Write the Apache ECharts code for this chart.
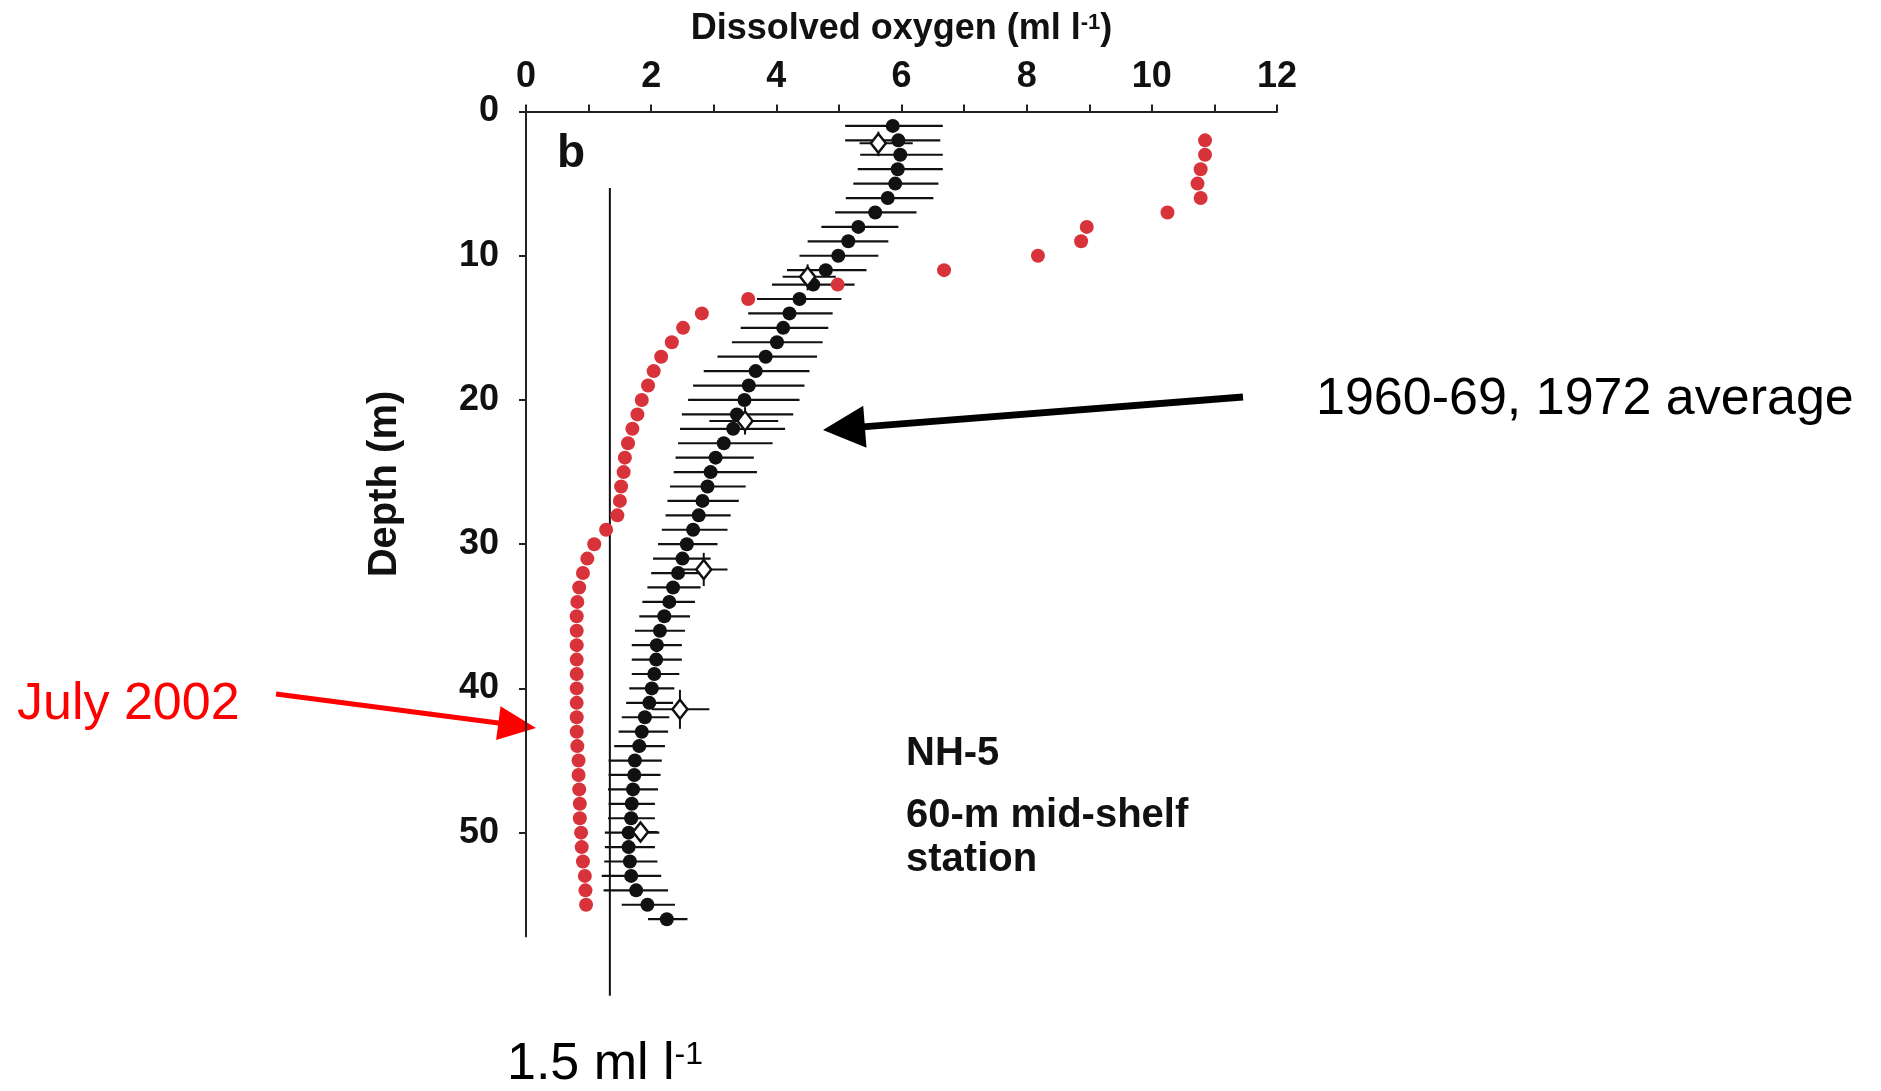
<!DOCTYPE html>
<html>
<head>
<meta charset="utf-8">
<script src="https://cdn.jsdelivr.net/npm/echarts@6/dist/echarts.min.js"></script>
<style>
  html, body { margin: 0; padding: 0; background: #fff; }
  #chart { width: 1881px; height: 1091px; }
</style>
</head>
<body>
<div id="chart"></div>
<script>
  // 1960-69, 1972 average profile (depth in m, oxygen in ml/l)
  const avgDepth = [1, 2, 3, 4, 5, 6, 7, 8, 9, 10, 11, 12, 13, 14, 15, 16, 17, 18, 19, 20,
    21, 22, 23, 24, 25, 26, 27, 28, 29, 30, 31, 32, 33, 34, 35, 36, 37, 38, 39, 40,
    41, 42, 43, 44, 45, 46, 47, 48, 49, 50, 51, 52, 53, 54, 55, 56]
  const avgO2 = [5.86, 5.95, 5.98, 5.94, 5.90, 5.78, 5.58, 5.31, 5.15, 4.99,
    4.79, 4.59, 4.37, 4.21, 4.11, 4.01, 3.83, 3.67, 3.56, 3.49,
    3.37, 3.31, 3.16, 3.03, 2.95, 2.90, 2.82, 2.76, 2.67, 2.57,
    2.50, 2.43, 2.35, 2.29, 2.21, 2.14, 2.09, 2.08, 2.05, 2.01,
    1.97, 1.90, 1.85, 1.81, 1.74, 1.73, 1.71, 1.69, 1.68, 1.64,
    1.64, 1.66, 1.68, 1.76, 1.94, 2.25]
  const avgLow = [5.10, 5.10, 5.34, 5.30, 5.23, 5.11, 4.94, 4.72, 4.50, 4.37,
    4.17, 3.93, 3.69, 3.55, 3.43, 3.29, 3.06, 2.84, 2.67, 2.59,
    2.49, 2.46, 2.43, 2.39, 2.36, 2.30, 2.26, 2.23, 2.17, 2.11,
    2.03, 2.00, 1.94, 1.86, 1.81, 1.74, 1.69, 1.69, 1.69, 1.65,
    1.60, 1.53, 1.48, 1.41, 1.32, 1.32, 1.31, 1.32, 1.31, 1.26,
    1.26, 1.25, 1.21, 1.24, 1.53, 1.95]
  const avgHigh = [6.66, 6.62, 6.66, 6.66, 6.59, 6.51, 6.24, 5.95, 5.79, 5.63,
    5.44, 5.25, 5.04, 4.90, 4.83, 4.74, 4.65, 4.53, 4.45, 4.37,
    4.27, 4.14, 3.94, 3.64, 3.69, 3.51, 3.40, 3.27, 3.22, 3.06,
    2.95, 2.85, 2.79, 2.70, 2.62, 2.54, 2.49, 2.49, 2.45, 2.37,
    2.35, 2.29, 2.27, 2.22, 2.17, 2.15, 2.11, 2.06, 2.06, 2.13,
    2.06, 2.10, 2.16, 2.27, 2.38, 2.58]

  // open diamonds with their own error bars
  const dmO2 = [5.63, 4.50, 3.50, 2.84, 2.46, 1.83]
  const dmDepth = [2.2, 11.45, 21.45, 31.75, 41.45, 49.95]
  const dmO2Low = [5.33, 4.10, 2.93, 2.42, 2.01, 1.55]
  const dmO2High = [6.18, 4.95, 4.03, 3.22, 2.93, 2.10]
  const dmDepthLow = [1.4, 10.6, 20.5, 30.6, 40.1, 49.95]
  const dmDepthHigh = [3.1, 12.4, 22.4, 32.9, 42.8, 49.95]

  // July 2002
  const julDepth = [2, 3, 4, 5, 6, 7, 8, 9, 10, 11, 12, 13, 14, 15, 16, 17, 18, 19, 20,
    21, 22, 23, 24, 25, 26, 27, 28, 29, 30, 31, 32, 33, 34, 35, 36, 37, 38, 39, 40,
    41, 42, 43, 44, 45, 46, 47, 48, 49, 50, 51, 52, 53, 54, 55]
  const julO2 = [10.85, 10.85, 10.78, 10.73, 10.78, 10.25, 8.96, 8.87, 8.18,
    6.68, 4.98, 3.55, 2.81, 2.51, 2.33, 2.16, 2.04, 1.95, 1.85,
    1.78, 1.70, 1.63, 1.58, 1.56, 1.52, 1.50, 1.46, 1.28, 1.09,
    0.98, 0.91, 0.85, 0.82, 0.81, 0.81, 0.81, 0.81, 0.81, 0.81,
    0.81, 0.81, 0.81, 0.82, 0.84, 0.84, 0.85, 0.86, 0.86, 0.88,
    0.89, 0.91, 0.94, 0.95, 0.96]

  // hypoxia threshold line
  const thresholdO2 = 1.34
  const thresholdDepth = [5.3, 61.3]

  const xTicks = [0, 2, 4, 6, 8, 10, 12]
  const yTicks = [0, 10, 20, 30, 40, 50]

  const FONT = "'Liberation Sans', Arial, sans-serif"

  const myChart = echarts.init(document.getElementById('chart'))

  // arrow = shaft + triangular head
  function arrow(x1, y1, x2, y2, lw, hl, hw, color) {
    const dx = x2 - x1
    const dy = y2 - y1
    const len = Math.hypot(dx, dy)
    const ux = dx / len
    const uy = dy / len
    const bx = x2 - ux * hl
    const by = y2 - uy * hl
    return [
      { type: 'line', shape: { x1: x1, y1: y1, x2: bx + ux * 2, y2: by + uy * 2 }, style: { stroke: color, lineWidth: lw } },
      {
        type: 'polygon',
        shape: { points: [[x2, y2], [bx - uy * hw, by + ux * hw], [bx + uy * hw, by - ux * hw]] },
        style: { fill: color },
      },
    ]
  }

  const option = {
    animation: false,
    backgroundColor: '#fff',
    grid: { left: 526, top: 111.5, right: 604, bottom: 154.5 },
    xAxis: {
      type: 'value',
      position: 'top',
      min: 0,
      max: 12,
      interval: 1,
      name: 'Dissolved oxygen (ml l{sup|-1})',
      nameLocation: 'middle',
      nameGap: 64,
      nameTextStyle: {
        fontFamily: FONT,
        fontSize: 36,
        fontWeight: 'bold',
        color: '#111',
        rich: {
          sup: { fontFamily: FONT, fontSize: 22, fontWeight: 'bold', color: '#111', verticalAlign: 'top' },
        },
      },
      axisLine: { lineStyle: { color: '#222', width: 2 } },
      axisTick: { length: 7, lineStyle: { color: '#222', width: 2 } },
      axisLabel: {
        customValues: xTicks,
        margin: 16,
        fontFamily: FONT,
        fontSize: 36,
        fontWeight: 'bold',
        color: '#111',
      },
      splitLine: { show: false },
    },
    yAxis: {
      type: 'value',
      inverse: true,
      min: 0,
      max: 57.2,
      axisLine: { show: true, lineStyle: { color: '#222', width: 2 } },
      axisTick: { show: true, customValues: yTicks, length: 7, lineStyle: { color: '#222', width: 2 } },
      axisLabel: {
        customValues: yTicks,
        margin: 27,
        fontFamily: FONT,
        fontSize: 36,
        fontWeight: 'bold',
        color: '#111',
      },
      splitLine: { show: false },
    },
    series: [
      {
        name: 'threshold',
        type: 'line',
        clip: false,
        symbol: 'none',
        silent: true,
        lineStyle: { color: '#111', width: 2 },
        data: thresholdDepth.map(d => [thresholdO2, d]),
        z: 1,
      },
      {
        name: 'avg error',
        type: 'custom',
        z: 2,
        renderItem: function (params, api) {
          const a = api.coord([api.value(0), api.value(2)])
          const b = api.coord([api.value(1), api.value(2)])
          return {
            type: 'line',
            shape: { x1: a[0], y1: a[1], x2: b[0], y2: b[1] },
            style: { stroke: '#111', lineWidth: 2.2 },
          }
        },
        data: avgDepth.map((d, i) => [avgLow[i], avgHigh[i], d]),
      },
      {
        name: 'July 2002',
        type: 'scatter',
        symbolSize: 14,
        itemStyle: { color: '#d8333a', opacity: 1 },
        data: julDepth.map((d, i) => [julO2[i], d]),
        z: 3,
      },
      {
        name: '1960-69, 1972 average',
        type: 'scatter',
        symbolSize: 14,
        itemStyle: { color: '#111', opacity: 1 },
        data: avgDepth.map((d, i) => [avgO2[i], d]),
        z: 4,
      },
      {
        name: 'diamond error',
        type: 'custom',
        z: 5,
        renderItem: function (params, api) {
          const d = api.value(1)
          const x = api.value(0)
          const h1 = api.coord([api.value(2), d])
          const h2 = api.coord([api.value(3), d])
          const v1 = api.coord([x, api.value(4)])
          const v2 = api.coord([x, api.value(5)])
          return {
            type: 'group',
            children: [
              { type: 'line', shape: { x1: h1[0], y1: h1[1], x2: h2[0], y2: h2[1] }, style: { stroke: '#111', lineWidth: 2 } },
              { type: 'line', shape: { x1: v1[0], y1: v1[1], x2: v2[0], y2: v2[1] }, style: { stroke: '#111', lineWidth: 2 } },
            ],
          }
        },
        data: dmO2.map((v, i) => [v, dmDepth[i], dmO2Low[i], dmO2High[i], dmDepthLow[i], dmDepthHigh[i]]),
      },
      {
        name: 'diamonds',
        type: 'scatter',
        symbol: 'diamond',
        symbolSize: [15, 19],
        itemStyle: { color: '#fff', borderColor: '#111', borderWidth: 2.5, opacity: 1 },
        data: dmO2.map((v, i) => [v, dmDepth[i]]),
        z: 6,
      },
    ],
    graphic: [
      {
        type: 'text',
        x: 385,
        y: 484,
        rotation: Math.PI / 2,
        style: {
          text: 'Depth (m)',
          fontFamily: FONT,
          fontSize: 40,
          fontWeight: 'bold',
          fill: '#111',
          align: 'center',
          verticalAlign: 'middle',
        },
      },
      {
        type: 'text',
        x: 571,
        y: 154,
        style: { text: 'b', fontFamily: FONT, fontSize: 46, fontWeight: 'bold', fill: '#111', align: 'center', verticalAlign: 'middle' },
      },
      {
        type: 'text',
        x: 906,
        y: 754,
        style: { text: 'NH-5', fontFamily: FONT, fontSize: 40, fontWeight: 'bold', fill: '#111', align: 'left', verticalAlign: 'middle' },
      },
      {
        type: 'text',
        x: 906,
        y: 838,
        style: {
          text: '60-m mid-shelf\nstation',
          fontFamily: FONT,
          fontSize: 40,
          fontWeight: 'bold',
          lineHeight: 44,
          fill: '#111',
          align: 'left',
          verticalAlign: 'middle',
        },
      },
      {
        type: 'text',
        x: 1316,
        y: 400,
        style: { text: '1960-69, 1972 average', fontFamily: FONT, fontSize: 52, fill: '#000', align: 'left', verticalAlign: 'middle' },
      },
      {
        type: 'text',
        x: 17,
        y: 705,
        style: { text: 'July 2002', fontFamily: FONT, fontSize: 52, fill: '#ff0000', align: 'left', verticalAlign: 'middle' },
      },
      {
        type: 'text',
        x: 507,
        y: 1065,
        style: {
          text: '1.5 ml l{sup|-1}',
          fontFamily: FONT,
          fontSize: 52,
          fill: '#000',
          align: 'left',
          verticalAlign: 'middle',
          rich: { sup: { fontFamily: FONT, fontSize: 32, fill: '#000', verticalAlign: 'top' } },
        },
      },
      ...arrow(1243, 397, 823, 430, 7, 42, 21, '#000'),
      ...arrow(276, 694, 536, 728, 5, 38, 17, '#ff0000'),
    ],
  }

  option && myChart.setOption(option)
</script>
</body>
</html>
